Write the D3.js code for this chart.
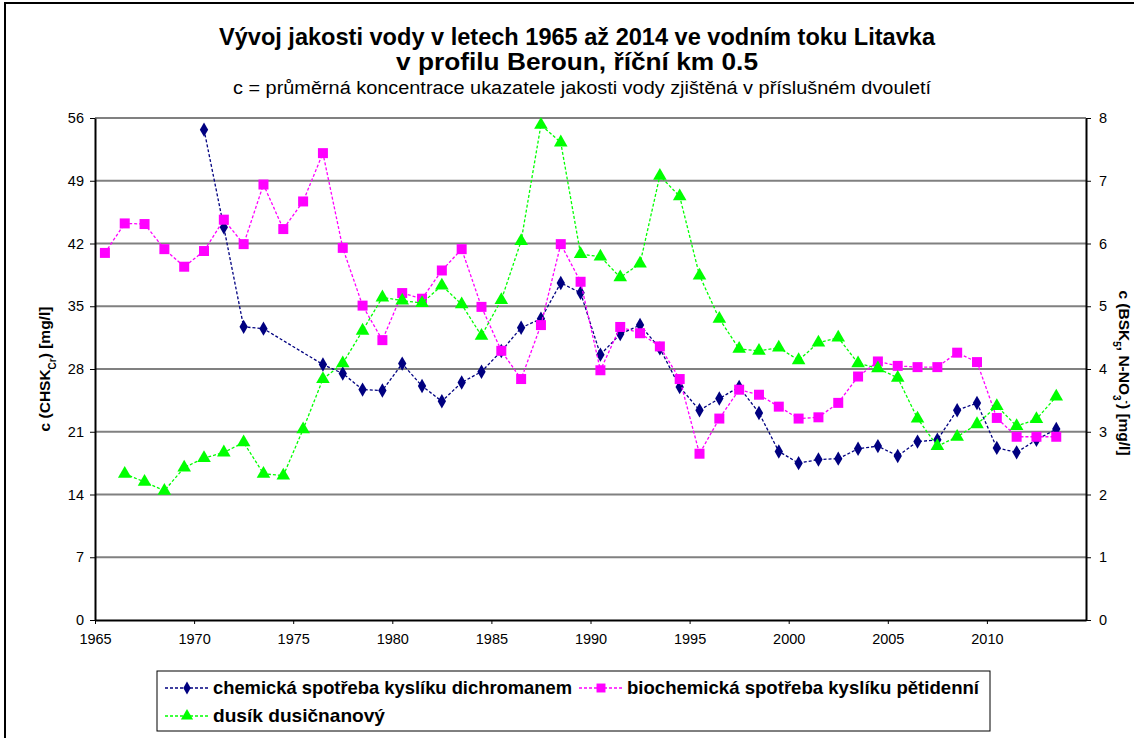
<!DOCTYPE html>
<html>
<head>
<meta charset="utf-8">
<script src="https://cdn.jsdelivr.net/npm/d3@7"></script>
<style>
  html, body { margin: 0; padding: 0; background: #fff; }
  svg { display: block; font-family: "Liberation Sans", Arial, sans-serif; }
</style>
</head>
<body>
<svg id="chart" width="1134" height="738"></svg>
<script>
// Two-year period start years (one point per year)
const years = d3.range(1965, 2014);

// CHSK_Cr [mg/l] – left axis
const chskCr = [
  null, null, null, null, null, 54.7, 43.8, 32.7, 32.5, null,
  null, 28.5, 27.5, 25.7, 25.6, 28.6, 26.1, 24.4, 26.5, 27.7,
  30.0, 32.6, 33.6, 37.6, 36.5, 29.6, 31.9, 32.9, 30.3, 26.0,
  23.4, 24.7, 26.0, 23.1, 18.8, 17.5, 17.9, 18.0, 19.1, 19.4,
  18.3, 19.9, 20.1, 23.4, 24.2, 19.2, 18.7, 20.1, 21.3
];

// BSK5 [mg/l] – right axis
const bsk5 = [
  5.85, 6.32, 6.31, 5.91, 5.63, 5.88, 6.38, 5.99, 6.94, 6.23,
  6.67, 7.44, 5.93, 5.01, 4.46, 5.21, 5.12, 5.57, 5.91, 4.99,
  4.29, 3.84, 4.70, 5.99, 5.39, 3.98, 4.67, 4.57, 4.36, 3.84,
  2.65, 3.21, 3.67, 3.59, 3.40, 3.21, 3.23, 3.46, 3.88, 4.12,
  4.05, 4.03, 4.03, 4.26, 4.11, 3.22, 2.92, 2.92, 2.92
];

// N-NO3 [mg/l] – right axis
const nno3 = [
  null, 2.33, 2.20, 2.06, 2.43, 2.58, 2.67, 2.83, 2.33, 2.30,
  3.04, 3.84, 4.09, 4.61, 5.14, 5.09, 5.05, 5.33, 5.03, 4.53,
  5.10, 6.04, 7.89, 7.61, 5.83, 5.79, 5.46, 5.68, 7.08, 6.75,
  5.49, 4.80, 4.32, 4.29, 4.34, 4.14, 4.42, 4.50, 4.09, 4.01,
  3.86, 3.21, 2.77, 2.92, 3.12, 3.41, 3.09, 3.20, 3.56
];

const xTicks = [1965, 1970, 1975, 1980, 1985, 1990, 1995, 2000, 2005, 2010];
const leftTicks = [0, 7, 14, 21, 28, 35, 42, 49, 56];
const rightTicks = [0, 1, 2, 3, 4, 5, 6, 7, 8];

const seriesNames = [
  "chemická spotřeba kyslíku dichromanem",
  "biochemická spotřeba kyslíku pětidenní",
  "dusík dusičnanový"
];

const svg = d3.select("#chart");
const plot = { left: 95, right: 1086, top: 118, bottom: 620 };

const x = d3.scaleLinear().domain([1965, 2015]).range([plot.left, plot.right]);
const yL = d3.scaleLinear().domain([0, 56]).range([plot.bottom, plot.top]);
const yR = d3.scaleLinear().domain([0, 8]).range([plot.bottom, plot.top]);

// outer frame
svg.append("rect")
  .attr("x", 5).attr("y", 3).attr("width", 1140).attr("height", 750)
  .attr("fill", "none").attr("stroke", "#000").attr("stroke-width", 2);

// titles
const title = svg.append("g").attr("text-anchor", "middle").attr("fill", "#000");
title.append("text").attr("x", 577).attr("y", 45)
  .attr("font-size", 23).attr("font-weight", "bold")
  .attr("textLength", 716).attr("lengthAdjust", "spacingAndGlyphs")
  .text("Vývoj jakosti vody v letech 1965 až 2014 ve vodním toku Litavka");
title.append("text").attr("x", 577).attr("y", 70)
  .attr("font-size", 23).attr("font-weight", "bold")
  .attr("textLength", 362).attr("lengthAdjust", "spacingAndGlyphs")
  .text("v profilu Beroun, říční km 0.5");
title.append("text").attr("x", 582).attr("y", 94)
  .attr("font-size", 18)
  .attr("textLength", 698).attr("lengthAdjust", "spacingAndGlyphs")
  .text("c = průměrná koncentrace ukazatele jakosti vody zjištěná v příslušném dvouletí");

// horizontal gridlines
svg.append("g")
  .selectAll("line")
  .data(leftTicks.filter(d => d > 0))
  .join("line")
  .attr("x1", plot.left).attr("x2", plot.right)
  .attr("y1", d => yL(d)).attr("y2", d => yL(d))
  .attr("stroke", "#808080").attr("stroke-width", 2);

// axes
const axisStyle = g => {
  g.select(".domain").attr("stroke", "#000").attr("stroke-width", 2);
  g.selectAll(".tick line").attr("stroke", "#000");
  g.selectAll(".tick text").attr("font-size", 14.5).attr("fill", "#000")
    .attr("font-family", "'Liberation Sans', Arial, sans-serif");
};

svg.append("g")
  .attr("transform", `translate(0,${plot.bottom})`)
  .call(d3.axisBottom(x).tickValues(xTicks).tickFormat(d3.format("d"))
    .tickSize(4).tickSizeOuter(0).tickPadding(10))
  .call(axisStyle);

svg.append("g")
  .attr("transform", `translate(${plot.left},0)`)
  .call(d3.axisLeft(yL).tickValues(leftTicks).tickSize(5).tickSizeOuter(0).tickPadding(6))
  .call(axisStyle);

svg.append("g")
  .attr("transform", `translate(${plot.right},0)`)
  .call(d3.axisRight(yR).tickValues(rightTicks).tickSize(5).tickSizeOuter(0).tickPadding(8))
  .call(axisStyle);

// axis titles
const leftTitle = svg.append("text")
  .attr("transform", `translate(50,${(plot.top + plot.bottom) / 2}) rotate(-90)`)
  .attr("text-anchor", "middle").attr("font-size", 15.5).attr("font-weight", "bold");
leftTitle.append("tspan").text("c (CHSK");
leftTitle.append("tspan").attr("font-size", 10).attr("baseline-shift", "sub").text("Cr");
leftTitle.append("tspan").text(") [mg/l]");

const rightTitle = svg.append("text")
  .attr("transform", `translate(1119,${(plot.top + plot.bottom) / 2 + 4}) rotate(90)`)
  .attr("text-anchor", "middle").attr("font-size", 15.5).attr("font-weight", "bold");
rightTitle.append("tspan").text("c (BSK");
rightTitle.append("tspan").attr("font-size", 10).attr("baseline-shift", "sub").text("5");
rightTitle.append("tspan").text(", N-NO");
rightTitle.append("tspan").attr("font-size", 10).attr("baseline-shift", "sub").text("3");
rightTitle.append("tspan").attr("font-size", 10).attr("baseline-shift", "super").text("-");
rightTitle.append("tspan").text(") [mg/l]");

// series
const series = [
  { name: seriesNames[0], values: chskCr, y: yL, color: "#000080", symbol: d3.symbolDiamond, size: 60 },
  { name: seriesNames[1], values: bsk5, y: yR, color: "#FF00FF", symbol: d3.symbolSquare, size: 100 },
  { name: seriesNames[2], values: nno3, y: yR, color: "#00FF00", symbol: d3.symbolTriangle, size: 80 }
];

series.forEach(s => {
  const pts = years.map((yr, i) => ({ yr, v: s.values[i] })).filter(p => p.v != null);
  const line = d3.line().x(p => x(p.yr + 0.5)).y(p => s.y(p.v));
  svg.append("path")
    .datum(pts)
    .attr("d", line)
    .attr("fill", "none")
    .attr("stroke", s.color)
    .attr("stroke-width", 1.3)
    .attr("stroke-dasharray", "3,2");
  svg.append("g")
    .selectAll("path")
    .data(pts)
    .join("path")
    .attr("transform", p => `translate(${x(p.yr + 0.5)},${s.y(p.v)})`)
    .attr("d", d3.symbol().type(s.symbol).size(s.size))
    .attr("fill", s.color);
});

// legend
const legend = svg.append("g");
legend.append("rect")
  .attr("x", 157).attr("y", 671).attr("width", 833).attr("height", 60)
  .attr("fill", "#fff").attr("stroke", "#000").attr("stroke-width", 1);

const legendPos = [
  { x: 165, y: 688 },
  { x: 579, y: 688 },
  { x: 165, y: 716 }
];
const legendWidths = [359, 352, 172];
series.forEach((s, i) => {
  const p = legendPos[i];
  const g = legend.append("g").attr("transform", `translate(${p.x},${p.y})`);
  g.append("line").attr("x1", 0).attr("x2", 44).attr("y1", 0).attr("y2", 0)
    .attr("stroke", s.color).attr("stroke-width", 1.3).attr("stroke-dasharray", "3,2");
  g.append("path").attr("transform", "translate(22,0)")
    .attr("d", d3.symbol().type(s.symbol).size(s.size * 0.8)).attr("fill", s.color);
  g.append("text").attr("x", 48).attr("y", 6)
    .attr("font-size", 18.5).attr("font-weight", "bold")
    .attr("textLength", legendWidths[i]).attr("lengthAdjust", "spacingAndGlyphs")
    .text(s.name);
});
</script>
</body>
</html>
